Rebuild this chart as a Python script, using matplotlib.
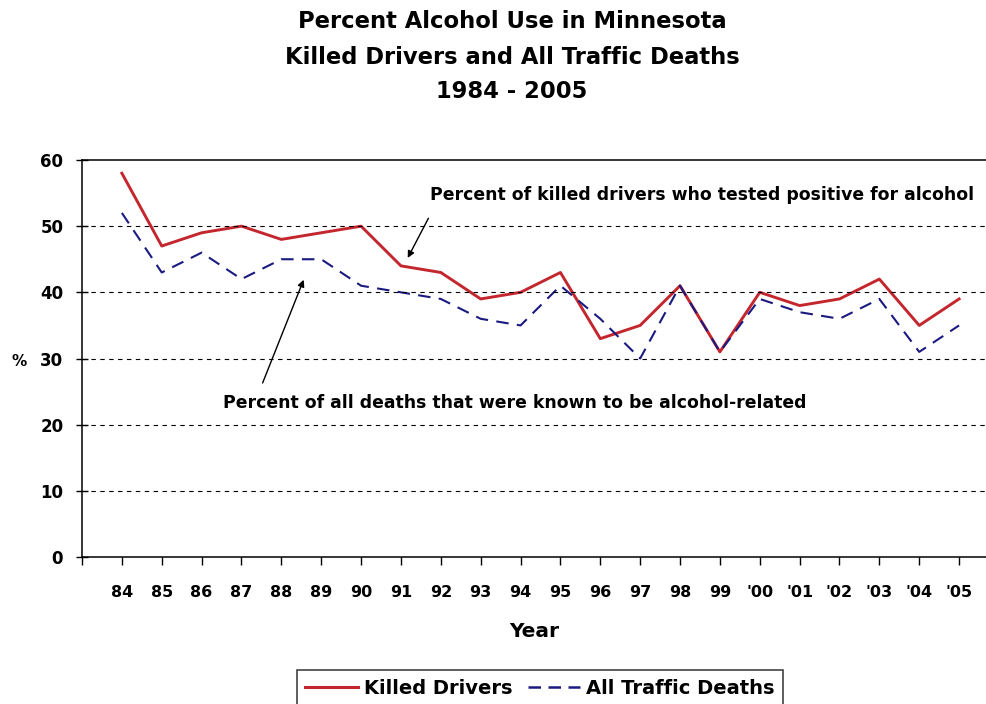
import numpy as np
import matplotlib
matplotlib.use('Agg')
import matplotlib.pyplot as plt
from matplotlib.lines import Line2D

years = ['84', '85', '86', '87', '88', '89', '90', '91', '92', '93', '94',
         '95', '96', '97', '98', '99', "'00", "'01", "'02", "'03", "'04", "'05"]
killed_drivers = [58, 47, 49, 50, 48, 49, 50, 44, 43, 39, 40,
                  43, 33, 35, 41, 31, 40, 38, 39, 42, 35, 39]
all_deaths = [52, 43, 46, 42, 45, 45, 41, 40, 39, 36, 35,
              41, 36, 30, 41, 31, 39, 37, 36, 39, 31, 35]

plt.rcParams['font.family'] = ['DejaVu Sans']
plt.rcParams['font.weight'] = 'bold'

red = '#c4262e'
blue = '#1a1a80'

fig = plt.figure(figsize=(9.87, 7.04), dpi=100)
ax = fig.add_axes([82/987, (704-557)/704, (987-82)/987, (557-160)/704])

x = np.arange(len(years))
ax.plot(x, killed_drivers, color=red, lw=2.1)
ax.plot(x, all_deaths, color=blue, lw=1.5, dashes=(6, 4))

ax.set_xlim(-1, 21.7)
ax.set_ylim(0, 60)
ax.set_yticks(range(0, 61, 10))
ax.set_xticks(np.arange(-1, len(years)))
ax.set_xticklabels([''] + years, fontsize=11.5, fontweight='bold')
ax.set_yticklabels([str(v) for v in range(0, 61, 10)], fontsize=12, fontweight='bold')
ax.tick_params(axis='x', direction='out', length=6, width=1, pad=14)
ax.tick_params(axis='y', direction='inout', length=9, width=1, pad=9)

for v in range(10, 60, 10):
    ax.axhline(v, color='black', lw=0.8, ls=(0, (4, 4)))

ax.spines['right'].set_visible(False)
for s in ['top', 'left', 'bottom']:
    ax.spines[s].set_linewidth(1.1)

ax.set_xlabel('Year', fontsize=14.5, fontweight='bold', labelpad=16)
fig.text(19/987, 1 - 362/704, '%', fontsize=11, fontweight='bold', ha='center', va='center')

title_lines = ['Percent Alcohol Use in Minnesota',
               'Killed Drivers and All Traffic Deaths',
               '1984 - 2005']
for i, line in enumerate(title_lines):
    fig.text(512/987, 1 - (22 + 35*i)/704, line, fontsize=16.3, fontweight='bold',
             ha='center', va='center')

# annotations
ax.text(7.72, 54.7, 'Percent of killed drivers who tested positive for alcohol',
        fontsize=12.4, fontweight='bold', ha='left', va='center')
ax.annotate('', xy=(7.17, 45.2), xytext=(7.69, 51.2),
            arrowprops=dict(arrowstyle='-|>', color='black', lw=1, mutation_scale=10,
                            shrinkA=0, shrinkB=0))
ax.text(2.53, 23.3, 'Percent of all deaths that were known to be alcohol-related',
        fontsize=12.4, fontweight='bold', ha='left', va='center')
ax.annotate('', xy=(4.56, 41.9), xytext=(3.53, 26.3),
            arrowprops=dict(arrowstyle='-|>', color='black', lw=1, mutation_scale=10,
                            shrinkA=0, shrinkB=0))

handles = [Line2D([], [], color=red, lw=2.2),
           Line2D([], [], color=blue, lw=1.8, dashes=(5, 3))]
leg = fig.legend(handles, ['Killed Drivers', 'All Traffic Deaths'],
                 loc='center', bbox_to_anchor=(540/987, 1 - 688/704), ncol=2,
                 fontsize=14, frameon=True, fancybox=False, edgecolor='black',
                 handlelength=2.7, handletextpad=0.3, columnspacing=0.8,
                 borderpad=0.45, borderaxespad=0)
leg.get_frame().set_linewidth(1.1)
for t in leg.get_texts():
    t.set_fontweight('bold')

fig.savefig('out.png', dpi=100)
